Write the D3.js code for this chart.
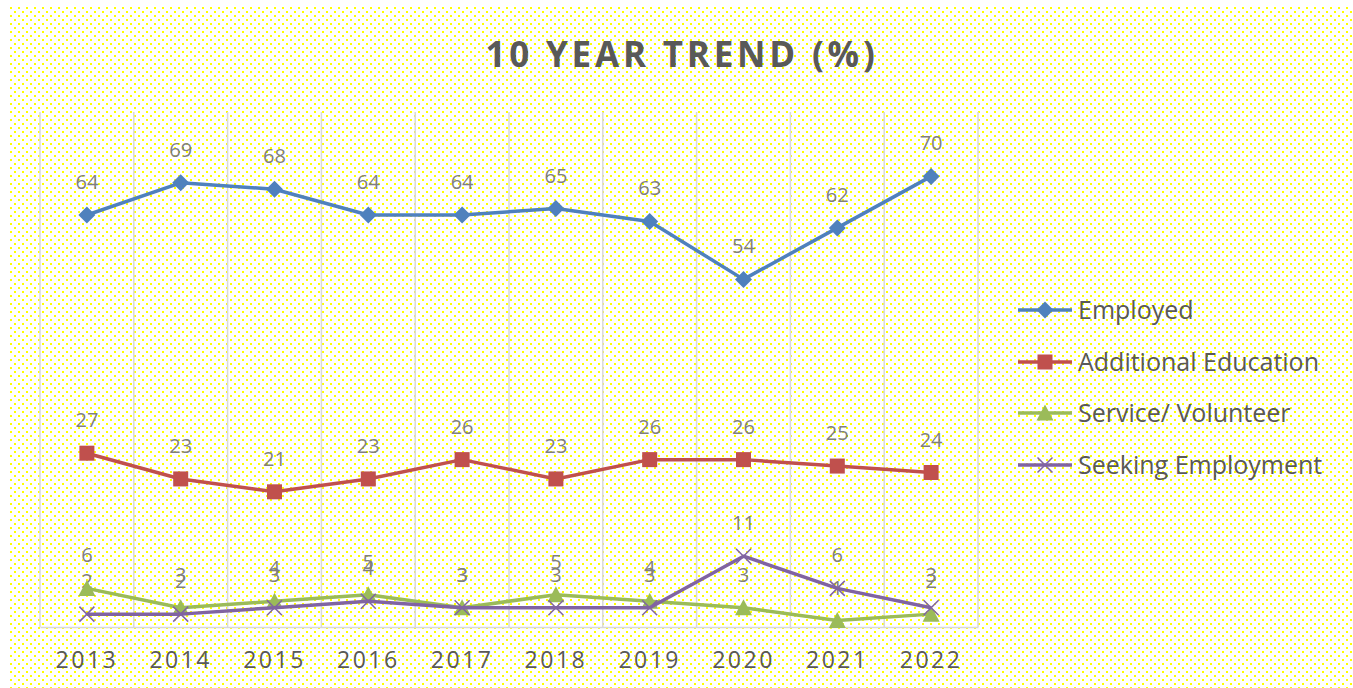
<!DOCTYPE html>
<html><head><meta charset="utf-8">
<script src="https://cdn.jsdelivr.net/npm/d3@7"></script>
<style>body{margin:0;background:#fff}svg{display:block}</style>
</head><body>
<svg id="c" width="1353" height="688"></svg>
<script>
const years = ["2013","2014","2015","2016","2017","2018","2019","2020","2021","2022"];
const employed = [64,69,68,64,64,65,63,54,62,70];
const additionalEducation = [27,23,21,23,26,23,26,26,25,24];
const serviceVolunteer = [6,3,4,5,3,5,4,3,1,2];
const seekingEmployment = [2,2,3,4,3,3,3,11,6,3];
const seriesNames = ["Employed","Additional Education","Service/ Volunteer","Seeking Employment"];
const seriesColors = ["#4f81bd","#c0504d","#9bbb59","#8064a2"];
const seriesShapes = ["diamond","square","triangle","x"];
const seriesValues = [employed, additionalEducation, serviceVolunteer, seekingEmployment];

const svg = d3.select("#c");
const FONT = "'Open Sans', 'Liberation Sans', sans-serif";

// dotted background drawn as one crisp path
let dp = "";
for (let yy = 7, r = 0; yy < 688; yy += 4, r++) {
  for (let xx = 10 + (r % 2) * 4; xx < 1353; xx += 8) {
    dp += `M${xx},${yy}h2v2h-2z`;
  }
}
svg.append("path").attr("d", dp).attr("fill", "#ffff00").attr("shape-rendering", "crispEdges");

const x = d3.scaleBand().domain(years).range([40,978]);
const y = d3.scaleLinear().domain([0,80]).range([627,112]);

// vertical gridlines at band edges
const edges = years.map(d => x(d)).concat([x.range()[1]]);
svg.append("g").selectAll("line").data(edges).join("line")
  .attr("x1",d=>d).attr("x2",d=>d).attr("y1",y(80)).attr("y2",y(0))
  .attr("stroke","#d9d9d9").attr("stroke-width",1.5);

// x axis
const xAxis = svg.append("g").attr("transform",`translate(0,${y(0)})`)
  .call(d3.axisBottom(x).tickSize(0).tickPadding(25));
xAxis.select(".domain").attr("stroke","#d9d9d9").attr("stroke-width",1.5);
xAxis.selectAll("text").attr("font-family",FONT).attr("font-size",23).attr("fill","#595959")
  .attr("letter-spacing","2.5px");

// title
svg.append("text").attr("x",682).attr("y",67).attr("text-anchor","middle")
  .attr("font-family",FONT).attr("font-weight","bold").attr("font-size",35)
  .attr("letter-spacing","3.8px").attr("fill","#595959").text("10 YEAR TREND (%)");

function marker(g, shape, color, s){
  if(shape==="diamond"){
    g.append("path").attr("d",`M0,${-s/2}L${s/2},0L0,${s/2}L${-s/2},0Z`).attr("fill",color);
  } else if(shape==="square"){
    g.append("rect").attr("x",-s/2+1).attr("y",-s/2+1).attr("width",s-2).attr("height",s-2).attr("fill",color);
  } else if(shape==="triangle"){
    g.append("path").attr("d",`M0,${-s/2}L${s/2},${s/2-1}L${-s/2},${s/2-1}Z`).attr("fill",color);
  } else {
    const h=s/2-1;
    g.append("path").attr("d",`M${-h},${-h}L${h},${h}M${-h},${h}L${h},${-h}`).attr("stroke",color).attr("stroke-width",1.5).attr("fill","none");
  }
}

const line = d3.line().x((d,i)=>x(years[i])+x.bandwidth()/2).y(d=>y(d));

// data labels (drawn beneath lines)
const labelsG = svg.append("g");
const linesG = svg.append("g");
seriesValues.forEach((vals,si)=>{
  labelsG.selectAll(null).data(vals).join("text")
    .attr("x",(d,i)=>x(years[i])+x.bandwidth()/2)
    .attr("y",d=>y(d)-26)
    .attr("text-anchor","middle").attr("font-family",FONT).attr("font-size",20)
    .attr("fill","#7f7f7f").text(d=>d);
});
seriesValues.forEach((vals,si)=>{
  linesG.append("path").datum(vals).attr("d",line).attr("fill","none")
    .attr("stroke",seriesColors[si]).attr("stroke-width",3.5).attr("stroke-linejoin","round");
  vals.forEach((d,i)=>{
    const g = linesG.append("g").attr("transform",`translate(${x(years[i])+x.bandwidth()/2},${y(d)})`);
    marker(g, seriesShapes[si], seriesColors[si], 17);
  });
});

// legend
const legendY = [310,362,413,465];
seriesNames.forEach((name,si)=>{
  const g = svg.append("g").attr("transform",`translate(1018,${legendY[si]})`);
  g.append("line").attr("x1",0).attr("x2",54).attr("stroke",seriesColors[si]).attr("stroke-width",3.5);
  const m = g.append("g").attr("transform","translate(27,0)");
  marker(m, seriesShapes[si], seriesColors[si], 17);
  g.append("text").attr("x",60).attr("y",0).attr("dy","0.35em")
    .attr("font-family",FONT).attr("font-size",25).attr("fill","#595959").text(name);
});
</script>
</body></html>
